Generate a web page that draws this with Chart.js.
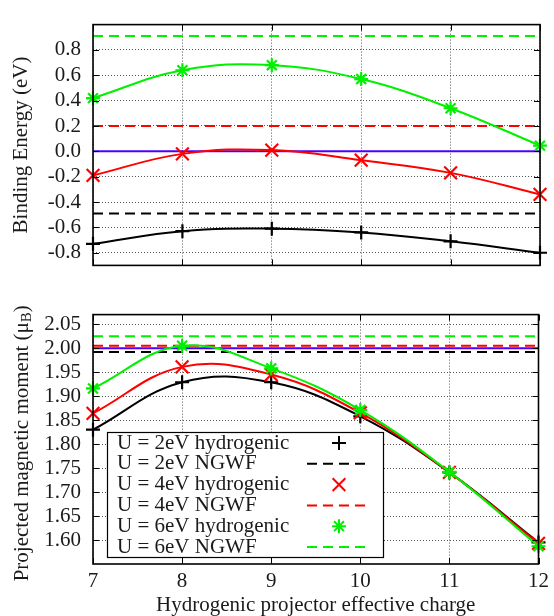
<!DOCTYPE html>
<html>
<head>
<meta charset="utf-8">
<script src="https://cdn.jsdelivr.net/npm/chart.js@4"></script>
<style>
  body { margin: 0; background: #fff; }
  #wrap { position: relative; width: 554px; height: 616px; }
  canvas { position: absolute; left: 0; }
</style>
</head>
<body>
<div id="wrap">
  <canvas id="topChart" width="554" height="290" style="top:0"></canvas>
  <canvas id="bottomChart" width="554" height="326" style="top:290px"></canvas>
</div>
<script>
// projector effective charge (x axis)
const charges = [7, 8, 9, 10, 11, 12];

// binding energy (eV)
const binding2 = [-0.73, -0.63, -0.61, -0.64, -0.71, -0.80];
const binding4 = [-0.19, -0.02, 0.01, -0.07, -0.17, -0.34];
const binding6 = [0.42, 0.64, 0.68, 0.57, 0.34, 0.045];
const bindingNgwf = [-0.49, 0.20, 0.91]; // U = 2, 4, 6 eV
const bindingRef = 0.0;
const bindingTicks = [-0.8, -0.6, -0.4, -0.2, 0.0, 0.2, 0.4, 0.6, 0.8];

// projected magnetic moment (muB)
const moment2 = [1.830, 1.929, 1.929, 1.858, 1.741, 1.595];
const moment4 = [1.864, 1.961, 1.945, 1.865, 1.741, 1.593];
const moment6 = [1.916, 2.005, 1.958, 1.871, 1.742, 1.587];
const momentNgwf = [1.992, 2.005, 2.025];
const momentRef = 2.0;
const momentTicks = [1.60, 1.65, 1.70, 1.75, 1.80, 1.85, 1.90, 1.95, 2.00, 2.05];

const seriesLabels = [
  'U = 2eV hydrogenic', 'U = 2eV NGWF',
  'U = 4eV hydrogenic', 'U = 4eV NGWF',
  'U = 6eV hydrogenic', 'U = 6eV NGWF'
];

const FONT = 'Liberation Serif';
const FS = 21;
const TEXT = '#1a1a1a';
const colors = ['#000000', '#ff0000', '#00f000'];
const marks = ['cross', 'crossRot', 'star'];
const markSize = [7, 9, 7];
const BLUE = '#4b00ff';

Chart.defaults.font.family = FONT;
Chart.defaults.font.size = FS;
Chart.defaults.color = TEXT;

function buildSets(series, ngwf, ref) {
  const sets = [];
  series.forEach((vals, i) => {
    sets.push({
      label: seriesLabels[2 * i],
      data: charges.map((c, j) => ({ x: c, y: vals[j] })),
      borderColor: colors[i],
      borderWidth: 2,
      tension: 0.4,
      pointStyle: marks[i],
      pointRadius: markSize[i],
      pointBorderWidth: 2.2,
      pointBorderColor: colors[i],
      pointBackgroundColor: colors[i],
      clip: false,
      order: 2 - i
    });
  });
  ngwf.forEach((v, i) => {
    sets.push({
      label: seriesLabels[2 * i + 1],
      data: [{ x: charges[0], y: v }, { x: charges[charges.length - 1], y: v }],
      borderColor: colors[i],
      borderWidth: 2,
      borderDash: [10, 6],
      pointRadius: 0,
      order: 3 + i
    });
  });
  sets.push({
    label: 'ref',
    data: [{ x: charges[0], y: ref }, { x: charges[charges.length - 1], y: ref }],
    borderColor: BLUE,
    borderWidth: 2,
    pointRadius: 0,
    order: 9
  });
  return sets;
}

// inner tick marks and frame, like gnuplot
const frame = {
  id: 'frame',
  afterDatasetsDraw(chart) {
    const { ctx, chartArea: a, scales: { x, y } } = chart;
    ctx.save();
    ctx.strokeStyle = '#000';
    ctx.lineWidth = 1;
    ctx.beginPath();
    x.ticks.forEach(t => {
      const px = Math.round(x.getPixelForValue(t.value)) + 0.5;
      ctx.moveTo(px, a.bottom); ctx.lineTo(px, a.bottom - 6);
      ctx.moveTo(px, a.top); ctx.lineTo(px, a.top + 6);
    });
    y.ticks.forEach(t => {
      const py = Math.round(y.getPixelForValue(t.value)) + 0.5;
      ctx.moveTo(a.left, py); ctx.lineTo(a.left + 6, py);
      ctx.moveTo(a.right, py); ctx.lineTo(a.right - 6, py);
    });
    ctx.stroke();
    ctx.lineWidth = 1.6;
    ctx.strokeRect(a.left, a.top, a.right - a.left, a.bottom - a.top);
    ctx.restore();
  }
};

// y title with subscript B for the lower panel
const momentTitle = {
  id: 'momentTitle',
  afterDraw(chart) {
    const { ctx, chartArea: a } = chart;
    const main = 'Projected magnetic moment (\u03bc';
    const big = FS + 'px "' + FONT + '"';
    const small = '15px "' + FONT + '"';
    ctx.save();
    ctx.fillStyle = TEXT;
    ctx.font = big;
    const w1 = ctx.measureText(main).width;
    const w3 = ctx.measureText(')').width;
    ctx.font = small;
    const w2 = ctx.measureText('B').width;
    const total = w1 + w2 + w3;
    ctx.translate(22, (a.top + a.bottom) / 2 + 4);
    ctx.rotate(-Math.PI / 2);
    ctx.textBaseline = 'middle';
    ctx.textAlign = 'left';
    let xx = -total / 2;
    ctx.font = big;
    ctx.fillText(main, xx, 0);
    xx += w1;
    ctx.font = small;
    ctx.fillText('B', xx, 5);
    xx += w2;
    ctx.font = big;
    ctx.fillText(')', xx, 0);
    ctx.restore();
  }
};

// gnuplot style key: text left, sample right
const keyBox = {
  id: 'keyBox',
  afterDraw(chart) {
    const ctx = chart.ctx;
    const left = 107, top = 142, w = 276, h = 125;
    ctx.save();
    ctx.fillStyle = '#fff';
    ctx.fillRect(left, top, w, h);
    ctx.strokeStyle = '#000';
    ctx.lineWidth = 1.2;
    ctx.strokeRect(left + 0.5, top + 0.5, w, h);
    ctx.font = FS + 'px "' + FONT + '"';
    ctx.textBaseline = 'middle';
    seriesLabels.forEach((lab, i) => {
      const yy = top + 11 + i * 20.8;
      ctx.fillStyle = TEXT;
      ctx.fillText(lab, left + 10, yy);
      const ds = chart.data.datasets.find(d => d.label === lab);
      ctx.strokeStyle = ds.borderColor;
      ctx.fillStyle = ds.borderColor;
      ctx.lineWidth = 2;
      if (ds.pointRadius > 0) {
        Chart.helpers.drawPoint(ctx, {
          pointStyle: ds.pointStyle, radius: ds.pointRadius, rotation: 0, borderWidth: 2
        }, 339, yy);
      } else {
        ctx.setLineDash([10, 6]);
        ctx.beginPath();
        ctx.moveTo(307, yy); ctx.lineTo(371, yy);
        ctx.stroke();
        ctx.setLineDash([]);
      }
    });
    ctx.restore();
  }
};

const gridStyle = { color: '#555', lineWidth: 1, drawTicks: false };
const borderStyle = { display: false, dash: [1, 2] };

new Chart(document.getElementById('topChart'), {
  type: 'line',
  data: { datasets: buildSets([binding2, binding4, binding6], bindingNgwf, bindingRef) },
  options: {
    responsive: false,
    animation: false,
    layout: { padding: { left: 0, right: 14, top: 13, bottom: 10 } },
    plugins: { legend: { display: false }, tooltip: { enabled: false } },
    scales: {
      x: {
        type: 'linear', min: 7, max: 12,
        afterBuildTicks: s => { s.ticks = charges.map(v => ({ value: v })); },
        afterFit: s => { s.height = 0; },
        ticks: { display: false },
        grid: gridStyle, border: borderStyle
      },
      y: {
        min: -0.9, max: 1.0,
        afterBuildTicks: s => { s.ticks = bindingTicks.map(v => ({ value: v })); },
        afterFit: s => { s.width = 93; },
        ticks: { padding: 12, autoSkip: false, callback: v => v.toFixed(1) },
        grid: gridStyle, border: borderStyle,
        title: { display: true, text: 'Binding Energy (eV)', padding: { top: 9, bottom: 0 } }
      }
    }
  },
  plugins: [frame]
});

new Chart(document.getElementById('bottomChart'), {
  type: 'line',
  data: { datasets: buildSets([moment2, moment4, moment6], momentNgwf, momentRef) },
  options: {
    responsive: false,
    animation: false,
    layout: { padding: { left: 0, right: 14, top: 6, bottom: 0 } },
    plugins: { legend: { display: false }, tooltip: { enabled: false } },
    scales: {
      x: {
        type: 'linear', min: 7, max: 12,
        afterBuildTicks: s => { s.ticks = charges.map(v => ({ value: v })); },
        afterFit: s => { s.height = 52; },
        ticks: { padding: 5, autoSkip: false, maxRotation: 0 },
        grid: gridStyle, border: borderStyle,
        title: {
          display: true, text: 'Hydrogenic projector effective charge',
          font: { size: FS, lineHeight: 1 }, padding: { top: 0, bottom: 0 }
        }
      },
      y: {
        min: 1.55, max: 2.07,
        afterBuildTicks: s => { s.ticks = momentTicks.map(v => ({ value: v })); },
        afterFit: s => { s.width = 93; },
        ticks: { padding: 12, autoSkip: false, callback: v => v.toFixed(2) },
        grid: gridStyle, border: borderStyle
      }
    }
  },
  plugins: [frame, momentTitle, keyBox]
});
</script>
</body>
</html>
